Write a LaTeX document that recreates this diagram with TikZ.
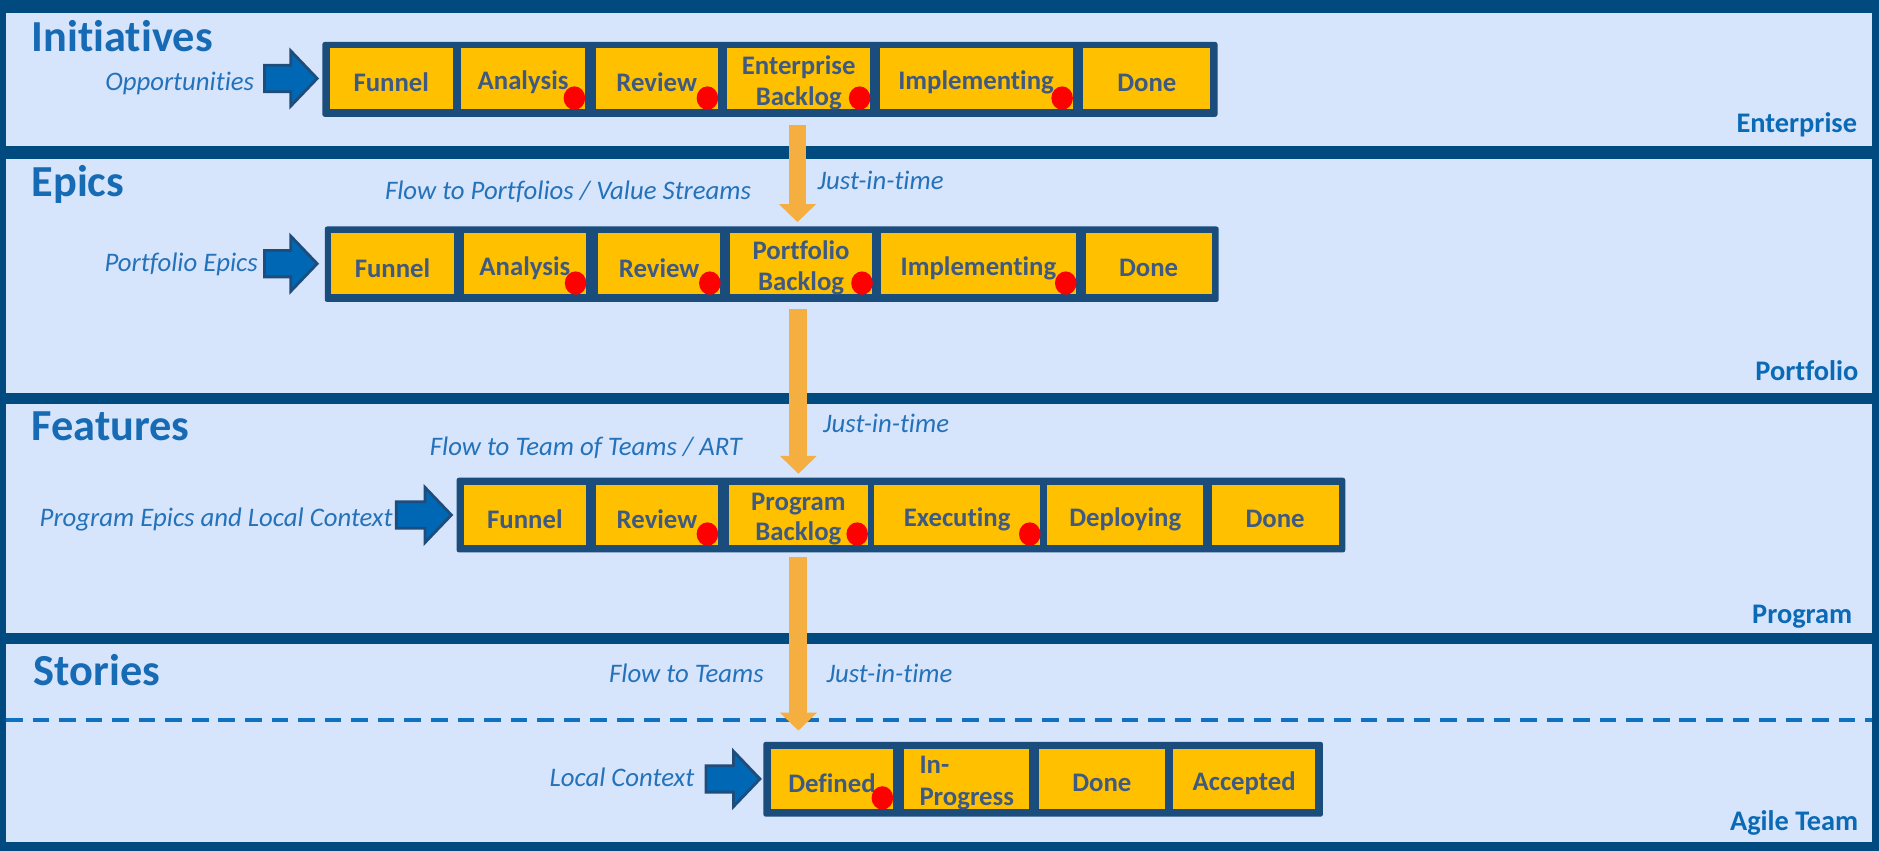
\documentclass[tikz,border=0pt]{standalone}
\usepackage{fontspec}
\setmainfont{Carlito}[Ligatures=NoCommon]
\usetikzlibrary{arrows.meta,calc}
\definecolor{bgdark}{HTML}{004A80}
\definecolor{contdark}{HTML}{1A4C7C}
\definecolor{bandlight}{HTML}{D6E4FC}
\definecolor{stageyellow}{HTML}{FFC000}
\definecolor{stagetext}{HTML}{3E5A82}
\definecolor{titleblue}{HTML}{166BB4}
\definecolor{levelblue}{HTML}{0A6AB6}
\definecolor{flowblue}{HTML}{2472BA}
\definecolor{dotred}{HTML}{FF0000}
\definecolor{flowarrow}{HTML}{F5AF41}
\definecolor{arrowfill}{HTML}{0067B4}
\definecolor{arrowedge}{HTML}{1E4D7B}
\definecolor{dashblue}{HTML}{1171C1}

% box node #2 spanning x #3..#4, y #5..#6, with text node #2t
\newcommand{\stagenode}[7][]{%
  \node[stagebox, minimum width={(#4-#3)*0.6pt}, minimum height={(#6-#5)*0.6pt}] (#2) at ({(#3+#4)/2},{(#5+#6)/2}) {};
  \node[stagelabel, #1] (#2t) at ([yshift=-2.1pt]#2.center) {#7};}
\newcommand{\blockarr}[2]{%
  \filldraw[bluearr] ($(#1)+(-#2,-11)$) -- ($(#1)+(-22,-11)$) -- ($(#1)+(-22,-23)$) -- (#1) -- ($(#1)+(-22,23)$) -- ($(#1)+(-22,11)$) -- ($(#1)+(-#2,11)$) -- cycle;}
\newcommand{\reddotat}[1]{%
  \fill[dotred] ($(#1.south east)+(-9,-9.5)$) ellipse [x radius=5.4pt, y radius=5.85pt];}

\begin{document}
\begin{tikzpicture}[x=0.6pt,y=-0.6pt,
  stagebox/.style={fill=stageyellow, inner sep=0pt},
  stagelabel/.style={inner sep=0pt, text=stagetext, font=\bfseries\fontsize{13.4}{15.4}\selectfont, align=center},
  titletext/.style={inner sep=0pt, text=titleblue, font=\bfseries\fontsize{22.2}{26}\selectfont},
  levellabel/.style={inner sep=0pt, text=levelblue, font=\bfseries\fontsize{14.2}{17}\selectfont},
  flowtext/.style={inner sep=0pt, text=flowblue, font=\itshape\fontsize{13.4}{16}\selectfont},
  orangearr/.style={draw=flowarrow, line width=9pt, -{Triangle[width=18pt,length=9pt]}},
  bluearr/.style={fill=arrowfill, draw=arrowedge, line width=1.4pt, line join=miter},
  dashline/.style={draw=dashblue, line width=2pt, dash pattern=on 8.3pt off 5pt},
  contbox/.style={fill=contdark, rounded corners=1.2pt}]
\useasboundingbox (0,0) rectangle (1568,710);
\fill[bgdark] (0,0) rectangle (1568,710);
\fill[bandlight] (5,10.6) rectangle (1562,122);
\fill[bandlight] (5,133) rectangle (1562,327.7);
\fill[bandlight] (5,337) rectangle (1562,528);
\fill[bandlight] (5,537) rectangle (1562,702.5);
\draw[dashline] (5,600.5) -- (1562,600.5);

% Row 1: Enterprise
\fill[contbox] (269,35) rectangle (1016,97.5);
\stagenode{ea}{275}{378}{40}{91}{Funnel}
\stagenode{eb}{385}{488}{40}{91}{Analysis}
\stagenode{ec}{497}{599}{40}{91}{Review}
\stagenode{ed}{607}{726}{40}{91}{Enterprise\\Backlog}
\stagenode{ee}{734}{895}{40}{91}{Implementing}
\stagenode{ef}{904}{1010}{40}{91}{Done}
\reddotat{eb}\reddotat{ec}\reddotat{ed}\reddotat{ee}

% Row 2: Portfolio
\fill[contbox] (271,189) rectangle (1017,252);
\stagenode{pa}{276}{379}{194.7}{245.4}{Funnel}
\stagenode{pb}{387}{489}{194.7}{245.4}{Analysis}
\stagenode{pc}{499}{601}{194.7}{245.4}{Review}
\stagenode{pd}{609}{728}{194.7}{245.4}{Portfolio\\Backlog}
\stagenode{pe}{735}{898}{194.7}{245.4}{Implementing}
\stagenode{pf}{906}{1011}{194.7}{245.4}{Done}
\reddotat{pb}\reddotat{pc}\reddotat{pd}\reddotat{pe}

% Row 3: Program
\fill[contbox] (381,398.6) rectangle (1122.6,461);
\stagenode{ga}{387}{489}{404.7}{454.8}{Funnel}
\stagenode{gb}{497.5}{599}{404.7}{454.8}{Review}
\stagenode{gc}{608.5}{724}{404.7}{454.8}{Program\\Backlog}
\stagenode{gd}{729.5}{868}{404.7}{454.8}{Executing}
\stagenode{ge}{874}{1004}{404.7}{454.8}{Deploying}
\stagenode{gf}{1011}{1117}{404.7}{454.8}{Done}
\reddotat{gb}\reddotat{gc}\reddotat{gd}

% Row 4: Agile Team
\fill[contbox] (637,619) rectangle (1104,681.5);
\stagenode{ta}{643.5}{745}{625}{675}{Defined}
\stagenode[align=left, font=\bfseries\fontsize{13.4}{16.2}\selectfont]{tb}{754.5}{859}{625}{675}{In-\\Progress}
\stagenode{tc}{867}{972}{625}{675}{Done}
\stagenode{td}{979}{1097.5}{625}{675}{Accepted}
\reddotat{ta}

% Blue input arrows
\coordinate (in1) at ($(ea.west)+(-10,0)$);
\coordinate (in2) at ($(pa.west)+(-11,0)$);
\coordinate (in3) at ($(ga.west)+(-10,0)$);
\coordinate (in4) at ($(ta.west)+(-9,0)$);
\blockarr{in1}{44}
\blockarr{in2}{44}
\blockarr{in3}{46}
\blockarr{in4}{45}

% Orange flow arrows
\draw[orangearr] ($(ed.south)+(-1,13)$) -- ($(ed.south |- pd.north)+(-1,-9)$);
\draw[orangearr] ($(gc.north |- pd.south)+(0,12)$) -- ($(gc.north)+(0,-9)$);
\draw[orangearr] ($(gc.south)+(0,10)$) -- ($(gc.south |- ta.north)+(0,-15)$);

% Titles
\node[titletext, anchor=base west] (ti1) at (26,43) {Initiatives};
\node[titletext, anchor=base west] (ti2) at (26,164) {Epics};
\node[titletext, anchor=base west] (ti3) at (26,367.7) {Features};
\node[titletext, anchor=base west] (ti4) at (28,572) {Stories};

% Level labels
\node[levellabel, anchor=base east] (lv1) at (1550,110.7) {Enterprise};
\node[levellabel, anchor=base east] (lv2) at (1551,317.7) {Portfolio};
\node[levellabel, anchor=base east] (lv3) at (1546,520) {Program};
\node[levellabel, anchor=base east] (lv4) at (1551,693) {Agile Team};

% Flow texts
\node[flowtext, anchor=base east] (f1) at (212.4,75.5) {Opportunities};
\node[flowtext, anchor=base east] (f2) at (215.4,226.7) {Portfolio Epics};
\node[flowtext, anchor=base west] (f3) at (321,166.3) {Flow to Portfolios / Value Streams};
\node[flowtext, anchor=base west] (f4) at (682,158) {Just-in-time};
\node[flowtext, anchor=base east] (f5) at (328,439.5) {Program Epics and Local Context};
\node[flowtext, anchor=base west] (f6) at (358.4,380.5) {Flow to Team of Teams / ART};
\node[flowtext, anchor=base west] (f7) at (686.6,361) {Just-in-time};
\node[flowtext, anchor=base west] (f8) at (508,569.7) {Flow to Teams};
\node[flowtext, anchor=base west] (f9) at (689.4,569.7) {Just-in-time};
\node[flowtext, anchor=base east] (f10) at (579.7,656) {Local Context};
\end{tikzpicture}
\end{document}
